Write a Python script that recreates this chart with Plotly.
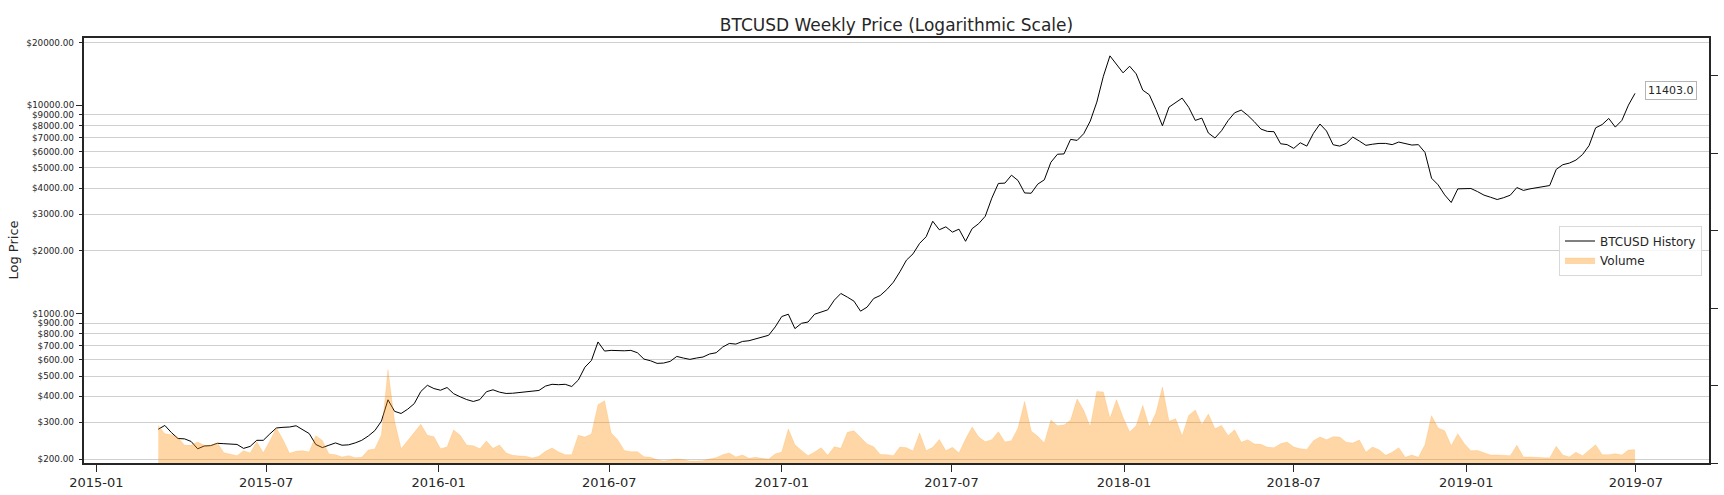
import numpy as np
import pandas as pd
import plotly.graph_objects as go

# Weekly closes, first week 2015-03-08
inicio = '2015-03-08'
semanas = pd.date_range(inicio, periods=226, freq='7D')

preco = [
    278, 290, 268, 251, 250, 243, 224, 231, 232, 238,
    237, 236, 235, 225, 230, 246, 246, 264, 282, 284,
    285, 289, 278, 265, 235, 227, 233, 239, 233, 234,
    239, 246, 258, 274, 304, 385, 339, 331, 347, 369,
    422, 452, 436, 428, 441, 412, 398, 386, 378, 386,
    421, 430, 419, 413, 414, 417,
    420, 423, 427, 448, 457, 455, 457, 446, 479, 552,
    595, 730, 660, 665, 662, 662, 665, 648, 604, 593,
    576, 578, 589, 622, 611, 602, 611, 618, 639, 648,
    690, 718, 713, 734, 740, 757, 771, 786, 862, 967,
    992, 846, 897, 910, 992, 1018, 1041, 1159, 1248, 1198,
    1146, 1026, 1073,
    1180, 1220, 1302, 1413, 1586, 1805, 1934, 2172, 2337, 2774,
    2524, 2607, 2459, 2541, 2222, 2555, 2700, 2930, 3580, 4212,
    4228, 4615, 4350, 3792, 3780, 4181, 4384, 5322, 5817, 5840,
    6857, 6780, 7300, 8398, 10356, 13790, 17266, 15690, 14310, 15400,
    14150, 11818, 11228, 9548, 7972, 9796, 10274, 10820, 9780, 8458,
    8674, 7354, 6960, 7546, 8440,
    9204, 9480, 8942, 8336, 7686, 7490, 7465, 6534, 6470, 6208,
    6604, 6366, 7330, 8126, 7520, 6464, 6366, 6558, 7036, 6730,
    6420, 6500, 6558, 6558, 6470, 6656, 6534, 6440, 6470, 5938,
    4464, 4148, 3712, 3412, 3968, 3968, 3983, 3850, 3700, 3616,
    3526, 3600, 3700, 4026, 3900, 3968, 4026, 4086, 4116, 4924,
    5182, 5276, 5454, 5796,
    6400, 7790, 8080, 8644, 7854, 8458, 10014, 11403.0,
]

# Volume (arbitrary units, right axis has no labels)
volume = [
    0.486, 0.378, 0.366, 0.331, 0.228, 0.228, 0.271, 0.228, 0.228, 0.258,
    0.133, 0.116, 0.095, 0.159, 0.129, 0.275, 0.133, 0.284, 0.452, 0.301,
    0.125, 0.151, 0.159, 0.142, 0.353, 0.292, 0.116, 0.108, 0.077, 0.095,
    0.069, 0.073, 0.168, 0.181, 0.366, 1.204, 0.538, 0.185, 0.288, 0.391,
    0.499, 0.357, 0.340, 0.185, 0.206, 0.426, 0.357, 0.228, 0.224, 0.185,
    0.284, 0.189, 0.232, 0.129, 0.100, 0.090,
    0.086, 0.065, 0.086, 0.151, 0.194, 0.142, 0.108, 0.108, 0.357, 0.335,
    0.374, 0.753, 0.804, 0.387, 0.301, 0.163, 0.146, 0.146, 0.082, 0.073,
    0.043, 0.026, 0.039, 0.052, 0.043, 0.026, 0.026, 0.030, 0.052, 0.069,
    0.108, 0.129, 0.077, 0.103, 0.060, 0.073, 0.060, 0.052, 0.116, 0.142,
    0.439, 0.237, 0.163, 0.095, 0.142, 0.198, 0.099, 0.211, 0.189, 0.396,
    0.417, 0.335, 0.245,
    0.210, 0.110, 0.108, 0.095, 0.206, 0.198, 0.155, 0.387, 0.159, 0.202,
    0.305, 0.159, 0.202, 0.129, 0.310, 0.465, 0.335, 0.275, 0.301, 0.404,
    0.271, 0.288, 0.452, 0.796, 0.413, 0.344, 0.258, 0.555, 0.482, 0.490,
    0.551, 0.826, 0.680, 0.465, 0.925, 0.916, 0.576, 0.817, 0.589, 0.400,
    0.482, 0.744, 0.465, 0.645, 0.981, 0.538, 0.572, 0.348, 0.615, 0.684,
    0.495, 0.632, 0.443, 0.486, 0.353,
    0.428, 0.267, 0.301, 0.245, 0.241, 0.202, 0.198, 0.249, 0.271, 0.206,
    0.185, 0.176, 0.288, 0.335, 0.301, 0.340, 0.335, 0.267, 0.258, 0.297,
    0.138, 0.206, 0.172, 0.099, 0.138, 0.198, 0.073, 0.103, 0.073, 0.237,
    0.611, 0.452, 0.417, 0.224, 0.378, 0.249, 0.159, 0.163, 0.129, 0.103,
    0.103, 0.103, 0.095, 0.228, 0.077, 0.077, 0.073, 0.065, 0.065, 0.215,
    0.103, 0.077, 0.138, 0.095, 0.163, 0.235, 0.108, 0.108, 0.120, 0.103,
    0.168, 0.172,
]

# y ticks: minor ones carry a grid line, major ones (1000, 10000) don't
ticks_menores = [200, 300, 400, 500, 600, 700, 800, 900,
                 2000, 3000, 4000, 5000, 6000, 7000, 8000, 9000, 20000]
ticks_maiores = [1000, 10000]
ticks_volume = [0, 1, 2, 3, 4, 5]

faixa_log = [2.282, 4.323]
cor_eixo = '#262626'

fig = go.Figure()

fig.add_trace(go.Scatter(
    x=semanas, y=preco, mode='lines', name='BTCUSD History',
    line=dict(color='black', width=1)
))

fig.add_trace(go.Scatter(
    x=semanas, y=volume, mode='lines', name='Volume', yaxis='y2',
    fill='tozeroy', fillcolor='rgba(255,140,0,0.35)',
    line=dict(color='rgba(255,140,0,0.35)', width=0.5)
))

# hidden copy on y3 so the long major ticks get drawn
fig.add_trace(go.Scatter(
    x=semanas, y=preco, mode='lines', yaxis='y3', showlegend=False,
    hoverinfo='skip', line=dict(color='rgba(0,0,0,0)', width=0)
))

# last price label
fig.add_annotation(
    x=semanas[-1], y=np.log10(preco[-1]), xref='x', yref='y',
    text=f'{preco[-1]:.1f}', showarrow=False, xanchor='left',
    xshift=10, yshift=3, font=dict(size=11, color=cor_eixo),
    bgcolor='white', bordercolor='#b5b5b5', borderwidth=1, borderpad=2
)

fig.add_annotation(
    x=0, y=0.5, xref='paper', yref='paper', text='Log Price',
    textangle=-90, showarrow=False, xanchor='center', yanchor='middle',
    xshift=-71, font=dict(size=13, color=cor_eixo)
)

fig.update_layout(
    width=1724, height=495,
    margin=dict(l=84, r=15, t=38, b=32),
    paper_bgcolor='white', plot_bgcolor='white',
    font=dict(family='DejaVu Sans', color=cor_eixo),
    title=dict(text='BTCUSD Weekly Price (Logarithmic Scale)',
               x=0.5, xref='paper', xanchor='center',
               y=1 - 25 / 495, yref='container', yanchor='middle',
               font=dict(size=17, color=cor_eixo)),
    showlegend=True,
    legend=dict(x=0.9957, y=0.5, xanchor='right', yanchor='middle',
                bgcolor='rgba(255,255,255,0.8)', bordercolor='#d9d9d9',
                borderwidth=1, itemwidth=30, font=dict(size=12, color=cor_eixo)),
    xaxis=dict(
        type='date', range=['2014-12-18 19:00', '2019-09-16 22:00'],
        tick0='2015-01-01', dtick='M6', tickformat='%Y-%m',
        ticks='outside', ticklen=7, tickwidth=1.2, tickcolor=cor_eixo,
        tickfont=dict(size=13), showgrid=False, zeroline=False,
        showline=True, linecolor=cor_eixo, linewidth=1.6, mirror=True,
        automargin=False
    ),
    yaxis=dict(
        type='log', range=faixa_log,
        tickmode='array', tickvals=ticks_menores,
        ticktext=[f'${v:.2f}' for v in ticks_menores],
        ticks='outside', ticklen=3.5, tickwidth=1, tickcolor=cor_eixo,
        tickfont=dict(size=8.8), ticklabelstandoff=3,
        showgrid=True, gridcolor='#d0d0d0',
        gridwidth=1, zeroline=False, showline=True, linecolor=cor_eixo,
        linewidth=1.6, automargin=False
    ),
    yaxis3=dict(
        type='log', range=faixa_log, overlaying='y', side='left',
        tickmode='array', tickvals=ticks_maiores,
        ticktext=[f'${v:.2f}' for v in ticks_maiores],
        ticks='outside', ticklen=7, tickwidth=1.2, tickcolor=cor_eixo,
        tickfont=dict(size=8.8), showgrid=False, zeroline=False,
        showline=False, automargin=False
    ),
    yaxis2=dict(
        range=[0, 5.49], overlaying='y', side='right',
        tickmode='array', tickvals=ticks_volume, showticklabels=False,
        ticks='outside', ticklen=7, tickwidth=1.2, tickcolor=cor_eixo,
        showgrid=False, zeroline=False, showline=True,
        linecolor=cor_eixo, linewidth=1.6, automargin=False
    ),
)

# page margin off so the figure sits at the window corner
ajuste = ("document.body.style.margin='0';"
          "document.body.style.overflow='hidden';"
          "document.documentElement.style.overflow='hidden';")
fig.write_html("out.html", config={'displayModeBar': False}, post_script=ajuste)
